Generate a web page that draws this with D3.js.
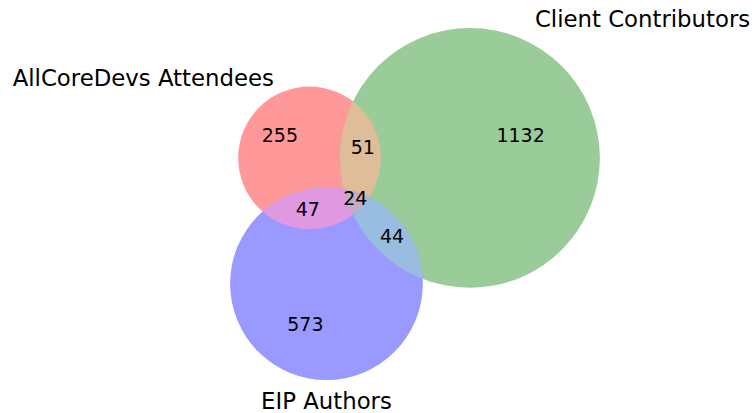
<!DOCTYPE html>
<html>
<head>
<meta charset="utf-8">
<script src="https://cdn.jsdelivr.net/npm/d3@7"></script>
<style>
  body { margin: 0; background: #fff; }
  svg { display: block; }
</style>
</head>
<body>
<svg id="chart" width="752" height="413"></svg>
<script>
// sets, in the order A, B, C
const setNames = ["AllCoreDevs Attendees", "Client Contributors", "EIP Authors"];
const setColors = ["#ff0000", "#008000", "#0000ff"];
// regions, keyed by membership in A/B/C
const regionKeys = ["100", "010", "110", "001", "101", "011", "111"];
const regionCounts = [255, 1132, 51, 573, 47, 44, 24];

const width = 752, height = 413;
const svg = d3.select("#chart");
const setFont = 22.8, regionFont = 19;

// sizes of sets and pairwise overlaps
const setSize = i => d3.sum(regionKeys, (k, n) => k[i] === "1" ? regionCounts[n] : 0);
const pairSize = (i, j) => d3.sum(regionKeys, (k, n) => (k[i] === "1" && k[j] === "1") ? regionCounts[n] : 0);

const radii = [0, 1, 2].map(i => Math.sqrt(setSize(i) / Math.PI));

// area of the lens between two circles
function lensArea(r1, r2, d) {
    if (d >= r1 + r2) return 0;
    if (d <= Math.abs(r1 - r2)) return Math.PI * Math.min(r1, r2) ** 2;
    const a1 = Math.acos((d * d + r1 * r1 - r2 * r2) / (2 * d * r1));
    const a2 = Math.acos((d * d + r2 * r2 - r1 * r1) / (2 * d * r2));
    const k = Math.sqrt((-d + r1 + r2) * (d + r1 - r2) * (d - r1 + r2) * (d + r1 + r2));
    return r1 * r1 * a1 + r2 * r2 * a2 - 0.5 * k;
}
// distance between centers giving the wanted overlap
function distanceForArea(r1, r2, area) {
    let lo = Math.abs(r1 - r2), hi = r1 + r2;
    for (let it = 0; it < 80; it++) {
        const mid = (lo + hi) / 2;
        if (lensArea(r1, r2, mid) > area) lo = mid; else hi = mid;
    }
    return (lo + hi) / 2;
}

const dAB = distanceForArea(radii[0], radii[1], pairSize(0, 1));
const dAC = distanceForArea(radii[0], radii[2], pairSize(0, 2));
const dBC = distanceForArea(radii[1], radii[2], pairSize(1, 2));

// A and B on a horizontal line, C below
const cxC = (dAC * dAC - dBC * dBC + dAB * dAB) / (2 * dAB);
const centers = [[0, 0], [dAB, 0], [cxC, Math.sqrt(Math.max(0, dAC * dAC - cxC * cxC))]];

// fit the circles into the plot box
const box = { left: 230, right: 600, top: 28, bottom: 380 };
const x0 = d3.min(centers, (c, i) => c[0] - radii[i]), x1 = d3.max(centers, (c, i) => c[0] + radii[i]);
const y0 = d3.min(centers, (c, i) => c[1] - radii[i]), y1 = d3.max(centers, (c, i) => c[1] + radii[i]);
const k = Math.min((box.right - box.left) / (x1 - x0), (box.bottom - box.top) / (y1 - y0));
const midX = (box.left + box.right) / 2, midY = (box.top + box.bottom) / 2;
const xScale = d3.scaleLinear().domain([x0, x1]).range([midX - k * (x1 - x0) / 2, midX + k * (x1 - x0) / 2]);
const yScale = d3.scaleLinear().domain([y0, y1]).range([midY - k * (y1 - y0) / 2, midY + k * (y1 - y0) / 2]);

const circles = centers.map((c, i) => ({ x: xScale(c[0]), y: yScale(c[1]), r: radii[i] * k }));

// colours: matplotlib-venn mixing, alpha 0.4 on white
const base = setColors.map(c => { const r = d3.rgb(c); return [r.r / 255, r.g / 255, r.b / 255]; });
const mix = ids => {
    if (ids.length === 1) return base[ids[0]];
    const f = ids.length === 2 ? 0.7 : 0.4;
    return [0, 1, 2].map(ch => Math.min(1, f * d3.sum(ids, i => base[i][ch])));
};
const overWhite = c => d3.rgb(...c.map(v => 255 * (1 - 0.4 * (1 - v)))).formatHex();
const idsOf = key => [0, 1, 2].filter(i => key[i] === "1");

const defs = svg.append("defs");
circles.forEach((c, i) => {
    defs.append("clipPath").attr("id", "clip-" + i)
        .append("circle").attr("cx", c.x).attr("cy", c.y).attr("r", c.r);
});

// paint singles, then pairs, then the triple on top
const paintOrder = d3.range(regionKeys.length).sort((a, b) => idsOf(regionKeys[a]).length - idsOf(regionKeys[b]).length);
const regionsG = svg.append("g");
paintOrder.forEach(n => {
    const ids = idsOf(regionKeys[n]);
    const fill = overWhite(mix(ids));
    let g = regionsG;
    ids.slice(1).forEach(i => { g = g.append("g").attr("clip-path", `url(#clip-${i})`); });
    const c = circles[ids[0]];
    g.append("circle").attr("cx", c.x).attr("cy", c.y).attr("r", c.r).attr("fill", fill);
});

// centre region: area centroid, sampled on a grid
const tripleKey = "111";
let sx = 0, sy = 0, sn = 0;
for (let px = box.left; px <= box.right; px += 0.5) {
    for (let py = box.top; py <= box.bottom; py += 0.5) {
        const key = circles.map(c => ((px - c.x) ** 2 + (py - c.y) ** 2 <= c.r * c.r) ? "1" : "0").join("");
        if (key === tripleKey) { sx += px; sy += py; sn++; }
    }
}
const tx = d3.mean(circles, c => c.x), ty = d3.mean(circles, c => c.y);
const meanR = d3.mean(circles, c => c.r);
const labelPos = regionKeys.map(key => {
    const ids = idsOf(key);
    if (ids.length === 1) {
        // outer regions: pushed out from the middle of the three centres
        const c = circles[ids[0]];
        return [c.x + 0.5 * (c.x - tx), c.y + 0.5 * (c.y - ty)];
    }
    if (ids.length === 2) {
        // middle of the lens, nudged away from the third circle
        const a = circles[ids[0]], b = circles[ids[1]];
        const third = circles[3 - ids[0] - ids[1]];
        const d = Math.hypot(b.x - a.x, b.y - a.y);
        const t = (d - b.r + a.r) / 2;
        const mx = a.x + (b.x - a.x) / d * t, my = a.y + (b.y - a.y) / d * t;
        const e = Math.hypot(mx - third.x, my - third.y);
        return [mx + 0.09 * meanR * (mx - third.x) / e, my + 0.09 * meanR * (my - third.y) / e];
    }
    return [sx / sn, sy / sn];
});

svg.append("g")
    .selectAll("text")
    .data(regionKeys)
    .join("text")
    .attr("x", (d, n) => labelPos[n][0])
    .attr("y", (d, n) => labelPos[n][1] + 0.262 * regionFont)
    .attr("text-anchor", "middle")
    .attr("font-family", "DejaVu Sans")
    .attr("font-size", regionFont)
    .attr("fill", "#000")
    .text((d, n) => regionCounts[n]);

// set labels like matplotlib-venn: A top-left, B top-right, C below
const setLabel = [
    { x: circles[0].x - circles[0].r / 2, y: circles[0].y - circles[0].r - 1, anchor: "end" },
    { x: circles[1].x + circles[1].r / 2, y: circles[1].y - circles[1].r - 1, anchor: "start" },
    { x: circles[2].x, y: circles[2].y + circles[2].r * 1.1 + 0.85 * setFont, anchor: "middle" }
];
svg.append("g")
    .selectAll("text")
    .data(setNames)
    .join("text")
    .attr("x", (d, i) => setLabel[i].x)
    .attr("y", (d, i) => setLabel[i].y)
    .attr("text-anchor", (d, i) => setLabel[i].anchor)
    .attr("font-family", "DejaVu Sans")
    .attr("font-size", setFont)
    .attr("fill", "#000")
    .text(d => d);
</script>
</body>
</html>
